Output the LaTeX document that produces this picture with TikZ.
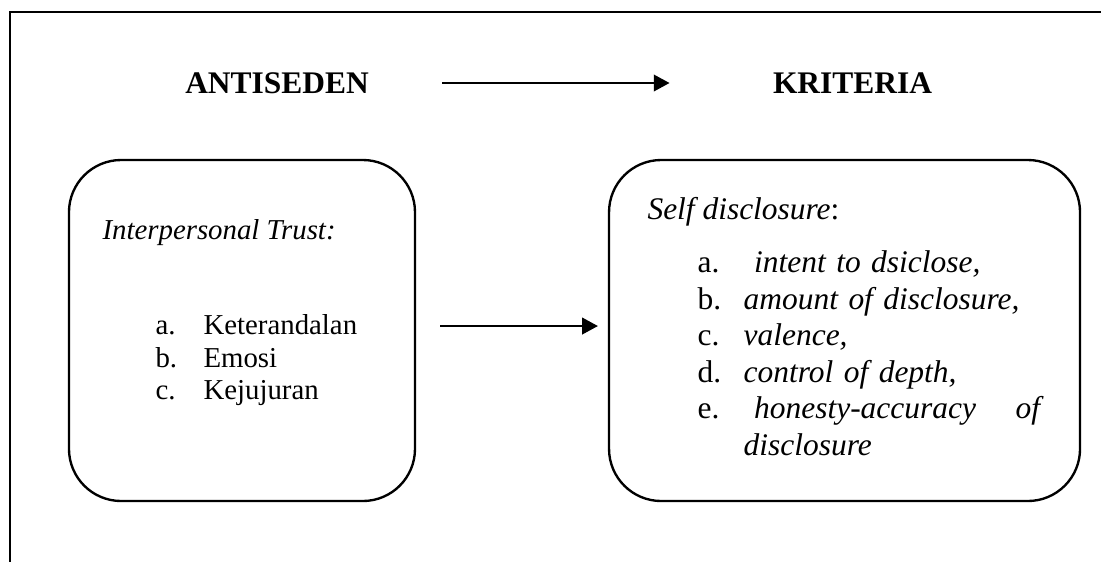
\documentclass[tikz,border=0pt]{standalone}
\usepackage{fontspec}
\setmainfont{Liberation Serif}[
  BoldFont = Liberation Serif Bold,
  ItalicFont = Liberation Serif Italic,
  BoldItalicFont = Liberation Serif Bold Italic]
\usetikzlibrary{arrows.meta}
\tikzstyle{arrow} = [line width=0.5pt,-{Triangle[length=6pt,width=6.4pt]}]
\tikzstyle{box} = [rectangle, draw, line width=0.9pt, rounded corners=0.7cm]
\tikzstyle{title} = [inner sep=0pt, font=\fontsize{12}{14}\selectfont\bfseries]

\begin{document}
\begin{tikzpicture}

\useasboundingbox (0,0) rectangle (14.764,-7.536);

% frame
\draw[line width=1pt] (0.134,-7.536) |- (14.764,-0.161);

% titles

\node[title] (antiseden) at (3.715,-1.113) {ANTISEDEN};
\node[title] (kriteria) at (11.432,-1.113) {KRITERIA};

\draw [arrow, shorten <=0.979cm, shorten >=1.381cm] (antiseden) -- (kriteria);

% left side

\node[box, minimum width=4.64cm, minimum height=4.573cm] (trust_box) at (3.245,-4.432) {};

\node[anchor=base west, inner sep=0pt, font=\fontsize{11}{12.4}\selectfont] (trust_head) at (1.368,-3.205) {\textit{Interpersonal Trust:}};

\node[anchor=base west, inner sep=0pt, text width=3cm, align=left, font=\fontsize{11}{12.4}\selectfont] (trust_list) at (2.079,-4.492) {%
\makebox[18.3pt][l]{a.}Keterandalan\\
\makebox[18.3pt][l]{b.}Emosi\\
\makebox[18.3pt][l]{c.}Kejujuran};

% right side

\node[box, minimum width=6.316cm, minimum height=4.573cm] (self_box) at (11.325,-4.432) {};

\node[anchor=base west, inner sep=0pt, font=\fontsize{12}{13.9}\selectfont] (self_head) at (8.676,-2.95) {\textit{Self disclosure}:};

\node[anchor=base west, inner sep=0pt, text width=4.7cm, align=left, font=\fontsize{12}{13.9}\selectfont] (self_list) at (9.347,-3.66) {%
\makebox[17.6pt][l]{a.}\ \textit{intent to dsiclose,}\\
\makebox[17.6pt][l]{b.}\textit{amount of disclosure,}\\
\makebox[17.6pt][l]{c.}\textit{valence,}\\
\makebox[17.6pt][l]{d.}\textit{control of depth,}\\
\makebox[17.6pt][l]{e.}\makebox[114.5pt][l]{\ \textit{honesty-accuracy}\hfill\textit{of}}\\
\hspace*{17.6pt}\textit{disclosure}};

\draw [arrow, shorten <=0.322cm, shorten >=0.134cm] ([yshift=0.06cm]trust_box.east) -- ([yshift=0.06cm]self_box.west);

\end{tikzpicture}
\end{document}
